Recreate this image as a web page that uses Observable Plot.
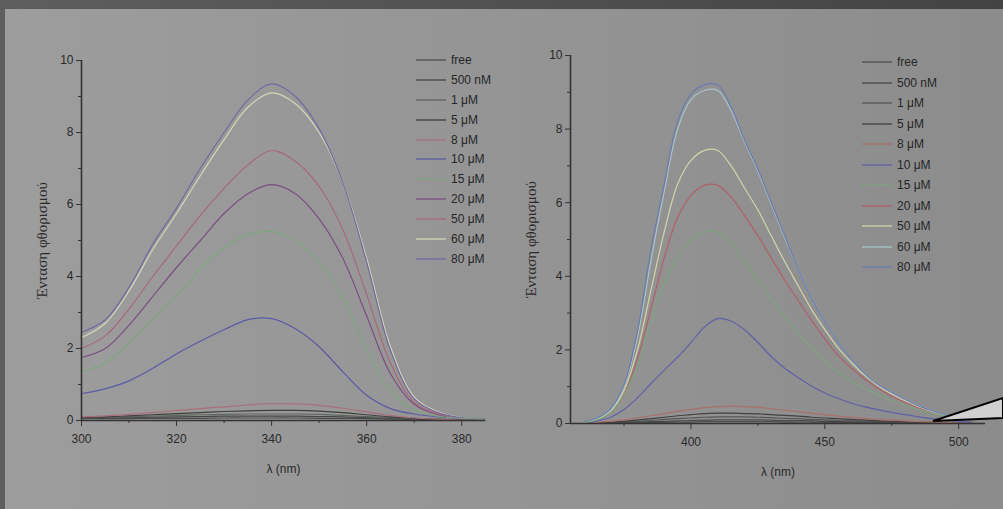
<!DOCTYPE html>
<html><head><meta charset="utf-8">
<script src="https://cdn.jsdelivr.net/npm/d3@7"></script>
<script src="https://cdn.jsdelivr.net/npm/@observablehq/plot@0.6"></script>
<style>
html,body{margin:0;padding:0;background:#4f4f4f;}
#page{position:relative;width:1003px;height:509px;overflow:hidden;background:linear-gradient(to right,#5e5e5e,#434343);}
#panel{position:absolute;left:5px;top:9px;right:0;bottom:0;background:linear-gradient(to right,#9d9d9d,#8c8c8c);}
.chart{position:absolute;top:0;}
.legend{position:absolute;font-family:"Liberation Sans",Arial,sans-serif;font-size:12px;color:#262626;}
.legend .row{display:flex;align-items:center;}
.legend svg{margin-right:5px;display:block;}
#callout{position:absolute;left:0;top:0;}
</style></head>
<body><div id="page"><div id="panel"></div>
<div id="left" class="chart" style="left:0"></div>
<div id="right" class="chart" style="left:490px"></div>
<div id="legL" class="legend" style="left:416px;top:50px"></div>
<div id="legR" class="legend" style="left:862px;top:52px"></div>
<svg id="callout" width="1003" height="509"><polygon points="933,421 1003,398 1003,418" fill="#d0d0d0" stroke="#000" stroke-width="2" stroke-linejoin="miter"/></svg>
</div>
<script>
// ---- data ----
const concLabels = ["free","500 nM","1 μM","5 μM","8 μM","10 μM","15 μM","20 μM","50 μM","60 μM","80 μM"];
const xLabel = "λ (nm)";
const yLabel = "Ένταση φθορισμού";

const xLeft = [300,305,310,315,320,325,330,335,340,345,350,355,360,365,370,375,380,385];
const leftFree = [0.05,0.05,0.05,0.06,0.06,0.06,0.07,0.07,0.07,0.07,0.06,0.06,0.05,0.04,0.03,0.02,0.02,0.02];
const left500nM = [0.06,0.07,0.08,0.09,0.1,0.11,0.12,0.12,0.12,0.12,0.11,0.1,0.08,0.06,0.04,0.03,0.02,0.02];
const left1uM = [0.07,0.09,0.1,0.12,0.14,0.16,0.17,0.18,0.18,0.18,0.17,0.14,0.11,0.08,0.05,0.03,0.02,0.02];
const left5uM = [0.08,0.1,0.13,0.16,0.19,0.22,0.25,0.27,0.28,0.28,0.26,0.22,0.16,0.1,0.06,0.03,0.02,0.02];
const left8uM = [0.1,0.13,0.17,0.22,0.28,0.33,0.38,0.43,0.47,0.46,0.42,0.34,0.24,0.14,0.07,0.03,0.02,0.02];
const left10uM = [0.75,0.88,1.1,1.45,1.85,2.2,2.52,2.8,2.83,2.55,2.05,1.35,0.7,0.33,0.18,0.1,0.05,0.04];
const left15uM = [1.35,1.6,2.15,2.8,3.45,4.2,4.8,5.15,5.25,5.0,4.4,3.4,1.95,0.8,0.3,0.12,0.06,0.04];
const left20uM = [1.75,2.0,2.65,3.45,4.25,5.0,5.75,6.3,6.55,6.3,5.6,4.5,2.9,1.3,0.45,0.16,0.06,0.04];
const left50uM = [2.0,2.35,3.1,4.0,4.85,5.7,6.45,7.1,7.5,7.2,6.5,5.3,3.5,1.6,0.5,0.18,0.07,0.04];
const left60uM = [2.3,2.7,3.6,4.75,5.75,6.8,7.8,8.7,9.1,8.8,8.0,6.6,4.5,2.05,0.65,0.24,0.08,0.05];
const left80uM = [2.45,2.8,3.7,4.9,5.9,7.0,8.0,8.9,9.35,9.0,8.1,6.6,4.4,1.95,0.6,0.22,0.08,0.05];

const xRight = [360,365,370,375,380,385,390,395,400,405,410,415,420,425,430,435,440,445,450,455,460,465,470,475,480,485,490,495,500,505];
const rightFree = [0.01,0.01,0.01,0.02,0.02,0.03,0.03,0.04,0.04,0.05,0.05,0.05,0.05,0.05,0.05,0.04,0.04,0.04,0.03,0.03,0.03,0.02,0.02,0.02,0.02,0.01,0.01,0.01,0.01,0.01];
const right500nM = [0.01,0.01,0.02,0.03,0.04,0.05,0.06,0.07,0.08,0.09,0.1,0.1,0.1,0.1,0.09,0.08,0.08,0.07,0.06,0.05,0.05,0.04,0.03,0.03,0.02,0.02,0.02,0.01,0.01,0.01];
const right1uM = [0.01,0.01,0.03,0.04,0.06,0.08,0.11,0.13,0.15,0.17,0.18,0.18,0.18,0.17,0.16,0.14,0.13,0.11,0.1,0.08,0.07,0.06,0.05,0.04,0.03,0.03,0.02,0.02,0.01,0.01];
const right5uM = [0.01,0.02,0.04,0.06,0.09,0.13,0.17,0.21,0.24,0.27,0.28,0.28,0.27,0.26,0.24,0.22,0.2,0.17,0.15,0.13,0.11,0.09,0.07,0.06,0.05,0.04,0.03,0.02,0.02,0.01];
const right8uM = [0.01,0.03,0.06,0.1,0.15,0.21,0.27,0.33,0.38,0.43,0.46,0.47,0.46,0.44,0.4,0.36,0.32,0.28,0.24,0.2,0.17,0.14,0.11,0.09,0.07,0.05,0.04,0.03,0.02,0.02];
const right10uM = [0.02,0.07,0.17,0.38,0.7,1.08,1.45,1.8,2.2,2.62,2.85,2.78,2.55,2.2,1.82,1.5,1.25,1.02,0.83,0.68,0.55,0.45,0.37,0.3,0.24,0.18,0.13,0.09,0.06,0.04];
const right15uM = [0.03,0.1,0.3,0.78,1.6,2.75,3.8,4.5,4.98,5.22,5.2,4.9,4.4,3.9,3.4,2.9,2.45,2.05,1.7,1.4,1.15,0.95,0.78,0.62,0.5,0.38,0.28,0.2,0.13,0.08];
const right20uM = [0.03,0.11,0.3,0.8,1.75,3.1,4.5,5.6,6.2,6.47,6.47,6.15,5.65,5.1,4.5,3.9,3.35,2.8,2.3,1.85,1.5,1.2,0.95,0.74,0.57,0.43,0.31,0.22,0.14,0.09];
const right50uM = [0.04,0.12,0.34,0.9,2.0,3.6,5.2,6.5,7.15,7.42,7.42,7.0,6.4,5.8,5.1,4.4,3.75,3.1,2.55,2.05,1.65,1.3,1.02,0.8,0.62,0.46,0.33,0.23,0.15,0.1];
const right60uM = [0.04,0.13,0.37,1.0,2.35,4.4,6.3,8.0,8.8,9.05,9.05,8.5,7.65,6.85,5.95,5.05,4.2,3.4,2.75,2.2,1.75,1.35,1.05,0.85,0.65,0.48,0.35,0.24,0.15,0.1];
const right80uM = [0.05,0.15,0.4,1.05,2.5,4.7,6.5,8.2,8.95,9.2,9.2,8.6,7.7,6.9,6.0,5.1,4.2,3.4,2.75,2.2,1.75,1.35,1.05,0.85,0.65,0.48,0.35,0.24,0.15,0.1];

const leftColors = ["#4e4e4e","#464646","#5c685c","#3f3f3f","#a8707a","#5a5aa6","#78a878","#7a4f80","#a86878","#d6d6b8","#7468a0"];
const rightColors = ["#4e4e4e","#484848","#555555","#404040","#a87068","#6060a8","#7aa87a","#b06068","#d4d4a8","#a8c4c8","#6a7cb0"];
const dashedSeries = ["15 μM"];

const xLeftDomain = [300,385];
const xLeftTicks = [300,320,340,360,380];
const xLeftMinor = [310,330,350,370];
const xRightDomain = [355,510];
const xRightTicks = [400,450,500];
const xRightMinor = [375,425,475];
const yDomain = [0,10];
const yTicks = [0,2,4,6,8,10];
const yMinor = [1,3,5,7,9];

const leftValues = [leftFree,left500nM,left1uM,left5uM,left8uM,left10uM,left15uM,left20uM,left50uM,left60uM,left80uM];
const rightValues = [rightFree,right500nM,right1uM,right5uM,right8uM,right10uM,right15uM,right20uM,right50uM,right60uM,right80uM];

function rows(xs, vals) {
  return concLabels.flatMap((c, i) => vals[i].map((v, j) => ({x: xs[j], y: v, c})));
}

const font = '"Liberation Sans", Arial, sans-serif';

function makeChart(opts) {
  const data = rows(opts.xs, opts.vals);
  const solid = data.filter(d => !dashedSeries.includes(d.c));
  const dashed = data.filter(d => dashedSeries.includes(d.c));
  return Plot.plot({
    width: opts.width, height: 509,
    marginLeft: opts.ml, marginRight: opts.mr, marginTop: opts.mt, marginBottom: 509 - opts.bottom,
    style: {background: "transparent", fontFamily: font, fontSize: "12px", color: "#2a2a2a"},
    x: {domain: opts.xDomain},
    y: {domain: yDomain},
    color: {domain: concLabels, range: opts.colors},
    marks: [
      Plot.line(solid, {x: "x", y: "y", z: "c", stroke: "c", strokeWidth: 1.2, curve: "catmull-rom"}),
      Plot.line(dashed, {x: "x", y: "y", z: "c", stroke: "c", strokeWidth: 1.2, strokeDasharray: "2,1.5", curve: "catmull-rom"}),
      Plot.ruleX([opts.xDomain[0]], {stroke: "#333", strokeWidth: 1.6}),
      Plot.ruleY([yDomain[0]], {stroke: "#333", strokeWidth: 1.6}),
      Plot.axisY({ticks: yTicks, tickSize: 5, tickPadding: 3, stroke: "#333", label: null}),
      Plot.axisY({ticks: [], tickSize: 0, label: yLabel, labelAnchor: "center", labelArrow: "none", labelOffset: opts.ylo, fontFamily: '"Liberation Serif", serif', fontSize: 15}),
      Plot.axisY({ticks: yMinor, tickSize: 3, tickFormat: () => "", label: null, stroke: "#333"}),
      Plot.axisX({ticks: opts.xTicks, tickSize: 6, tickPadding: 8, stroke: "#333", label: xLabel, labelAnchor: "center", labelArrow: "none", labelOffset: opts.xlo}),
      Plot.axisX({ticks: opts.xMinor, tickSize: 3, tickFormat: () => "", label: null, stroke: "#333"})
    ]
  });
}

document.getElementById("left").append(makeChart({
  xs: xLeft, vals: leftValues, colors: leftColors, width: 500, ml: 81, mr: 15, mt: 60, bottom: 420,
  xDomain: xLeftDomain, xTicks: xLeftTicks, xMinor: xLeftMinor, ylo: 45, xlo: 52
}));
document.getElementById("right").append(makeChart({
  xs: xRight, vals: rightValues, colors: rightColors, width: 513, ml: 80, mr: 18, mt: 55, bottom: 423,
  xDomain: xRightDomain, xTicks: xRightTicks, xMinor: xRightMinor, ylo: 45, xlo: 52
}));

function legend(el, colors, rowH) {
  concLabels.forEach((c, i) => {
    const row = document.createElement("div");
    row.className = "row";
    row.style.height = rowH + "px";
    const dash = dashedSeries.includes(c) ? ' stroke-dasharray="2,1.5"' : '';
    row.innerHTML = `<svg width="30" height="4"><line x1="0" x2="30" y1="2" y2="2" stroke="${colors[i]}" stroke-width="1.3"${dash}/></svg><span>${c}</span>`;
    el.append(row);
  });
}
legend(document.getElementById("legL"), leftColors, 19.9);
legend(document.getElementById("legR"), rightColors, 20.5);
</script>
</body></html>
